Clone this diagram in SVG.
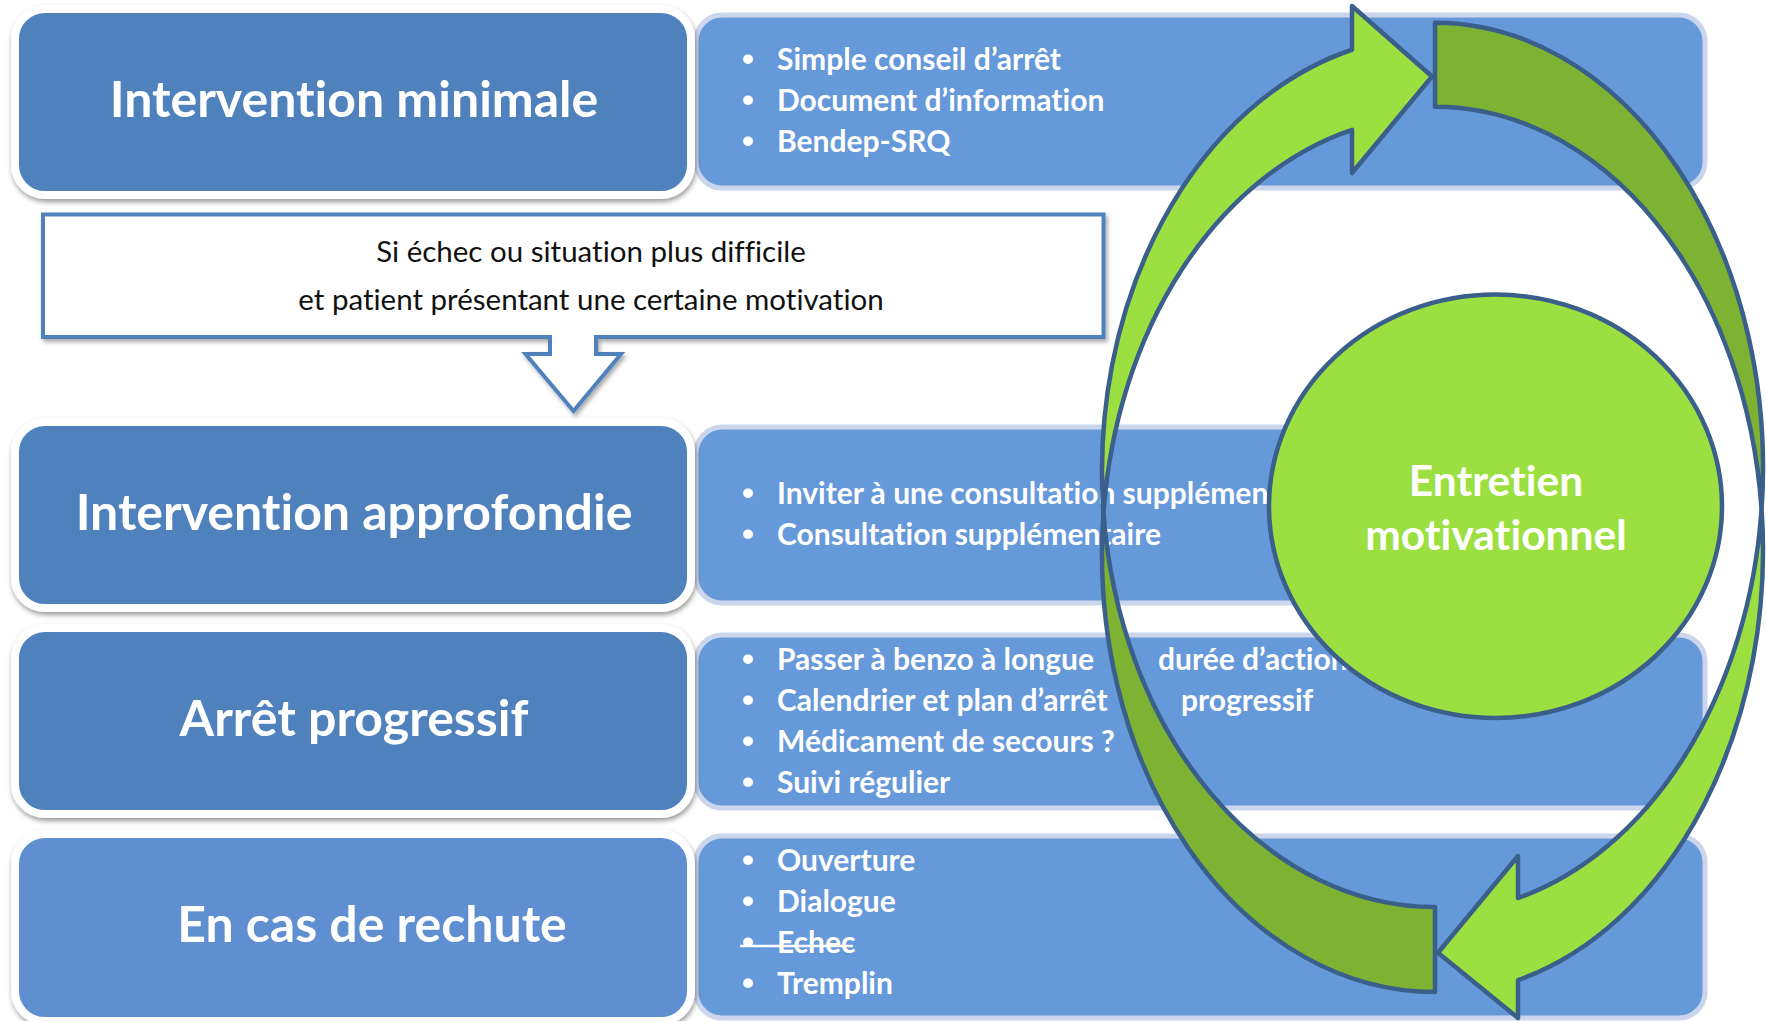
<svg xmlns="http://www.w3.org/2000/svg" width="1766" height="1021" viewBox="0 0 1766 1021">
  <defs>
    <filter id="shadow" x="-5%" y="-10%" width="110%" height="125%">
      <feDropShadow dx="1" dy="3" stdDeviation="2.5" flood-color="#000" flood-opacity="0.4"/>
    </filter>
    <filter id="soft" x="-5%" y="-10%" width="110%" height="130%">
      <feDropShadow dx="2" dy="3" stdDeviation="2" flood-color="#000" flood-opacity="0.35"/>
    </filter>
    <style>
      text { font-variant-ligatures: none; font-feature-settings: "liga" 0, "clig" 0, "dlig" 0; }
      .stage { stroke: #fff; stroke-width: 8; filter: url(#shadow); }
      .stage-text { font-family: Lato, "Liberation Sans", sans-serif; font-weight: bold; font-size: 50px; fill: #fff; text-anchor: middle; }
      .panel { fill: #6699D9; stroke: #CBD5EB; stroke-width: 5; }
      .item { font-family: Lato, "Liberation Sans", sans-serif; font-weight: bold; font-size: 30px; fill: #fff; }
      .bullet { font-family: "Liberation Sans", sans-serif; font-weight: bold; font-size: 34px; fill: #fff; text-anchor: middle; }
      .note { font-family: Lato, "Liberation Sans", sans-serif; font-size: 29.5px; fill: #111; text-anchor: middle; }
      .lit { fill: #9BE040; stroke: #3A5F8B; stroke-width: 4.5; stroke-linejoin: round; }
      .shade { fill: #7DB233; stroke: #3A5F8B; stroke-width: 4.5; stroke-linejoin: round; }
      .core-text { font-family: Lato, "Liberation Sans", sans-serif; font-weight: bold; font-size: 42.5px; fill: #fff; text-anchor: middle; }
    </style>
  </defs>

  <rect width="1766" height="1021" fill="#fff"/>

  <!-- Detail panels (right column) -->
  <g id="panel-minimale">
    <rect class="panel" x="696" y="15" width="1009" height="173" rx="26"/>
    <text class="bullet" x="748" y="70">•</text>
    <text class="item" x="777" y="70">Simple conseil d’arrêt</text>
    <text class="bullet" x="748" y="111">•</text>
    <text class="item" x="777" y="111">Document d’information</text>
    <text class="bullet" x="748" y="152">•</text>
    <text class="item" x="777" y="152">Bendep-SRQ</text>
  </g>

  <g id="panel-approfondie">
    <rect class="panel" x="696" y="427" width="1009" height="176" rx="26"/>
    <text class="bullet" x="748" y="504">•</text>
    <text class="item" x="777" y="504">Inviter à une consultation supplémentaire</text>
    <text class="bullet" x="748" y="545">•</text>
    <text class="item" x="777" y="545">Consultation supplémentaire</text>
  </g>

  <g id="panel-progressif">
    <rect class="panel" x="696" y="635" width="1009" height="173" rx="26"/>
    <text class="bullet" x="748" y="670">•</text>
    <text class="item" x="777" y="670">Passer à benzo à longue</text>
    <text class="item" x="1158" y="670">durée d’action</text>
    <text class="bullet" x="748" y="711">•</text>
    <text class="item" x="777" y="711">Calendrier et plan d’arrêt</text>
    <text class="item" x="1181" y="711">progressif</text>
    <text class="bullet" x="748" y="752">•</text>
    <text class="item" x="777" y="752">Médicament de secours ?</text>
    <text class="bullet" x="748" y="793">•</text>
    <text class="item" x="777" y="793">Suivi régulier</text>
  </g>

  <g id="panel-rechute">
    <rect class="panel" x="696" y="836" width="1009" height="182" rx="26"/>
    <text class="bullet" x="748" y="871">•</text>
    <text class="item" x="777" y="871">Ouverture</text>
    <text class="bullet" x="748" y="912">•</text>
    <text class="item" x="777" y="912">Dialogue</text>
    <text class="bullet" x="748" y="953">•</text>
    <text class="item" x="777" y="953">Echec</text>
    <line x1="740" y1="946" x2="853" y2="946" stroke="#fff" stroke-width="2.5"/>
    <text class="bullet" x="748" y="994">•</text>
    <text class="item" x="777" y="994">Tremplin</text>
  </g>

  <!-- Stage boxes (left column) -->
  <g id="stage-minimale">
    <rect class="stage" x="15" y="9" width="676" height="186" rx="30" fill="#4F81BD"/>
    <text class="stage-text" x="354" y="117">Intervention minimale</text>
  </g>
  <g id="stage-approfondie">
    <rect class="stage" x="15" y="422" width="676" height="186" rx="30" fill="#4F81BD"/>
    <text class="stage-text" x="354" y="530">Intervention approfondie</text>
  </g>
  <g id="stage-progressif">
    <rect class="stage" x="15" y="628" width="676" height="186" rx="30" fill="#4F81BD"/>
    <text class="stage-text" x="354" y="736">Arrêt progressif</text>
  </g>
  <g id="stage-rechute">
    <rect class="stage" x="15" y="834" width="676" height="187" rx="30" fill="#5E8FD0"/>
    <text class="stage-text" x="372" y="942">En cas de rechute</text>
  </g>

  <!-- Condition callout with down arrow -->
  <g id="condition">
    <path d="M43,214.5 H1103.5 V337 H596 V354 H621 L573.5,411 L525.5,354 H550 V337 H43 Z" fill="#fff" stroke="#4F81BD" stroke-width="4" stroke-linejoin="miter" filter="url(#soft)"/>
    <text class="note" x="591" y="261.5">Si échec ou situation plus difficile</text>
    <text class="note" x="591" y="310">et patient présentant une certaine motivation</text>
  </g>

  <!-- Twisted cycle arrows around the core -->
  <g id="connectors">
    <g id="cycle-left">
      <path class="lit" d="M1103.49,512.63 A333 435.5 0 0 1 1352,49.75 L1352,6 L1432,76.5 L1352,173 L1352,129.82 A333 438 0 0 0 1103.49,512.63 Z"/>
      <path class="shade" d="M1103.49,512.63 A333 438 0 0 0 1435,992 L1435,907 A333 435.5 0 0 1 1103.49,512.63 Z"/>
    </g>
    <g id="cycle-right">
      <path class="shade" d="M1435,22.7 A328 444.9 0 0 1 1761.57,509.15 A328 443.9 0 0 0 1435,106.7 Z"/>
      <path class="lit" d="M1761.57,509.15 A328 444.9 0 0 1 1518,898.02 L1518,856 L1438,952.7 L1518,1018 L1518,980.06 A328 443.9 0 0 0 1761.57,509.15 Z"/>
    </g>
  </g>

  <!-- Core circle -->
  <g id="entretien">
    <ellipse cx="1495.5" cy="506.3" rx="226.5" ry="211.7" fill="#9BE040" stroke="#3A5F8B" stroke-width="4.5"/>
    <text class="core-text" x="1496" y="496">Entretien</text>
    <text class="core-text" x="1496" y="550">motivationnel</text>
  </g>
</svg>
